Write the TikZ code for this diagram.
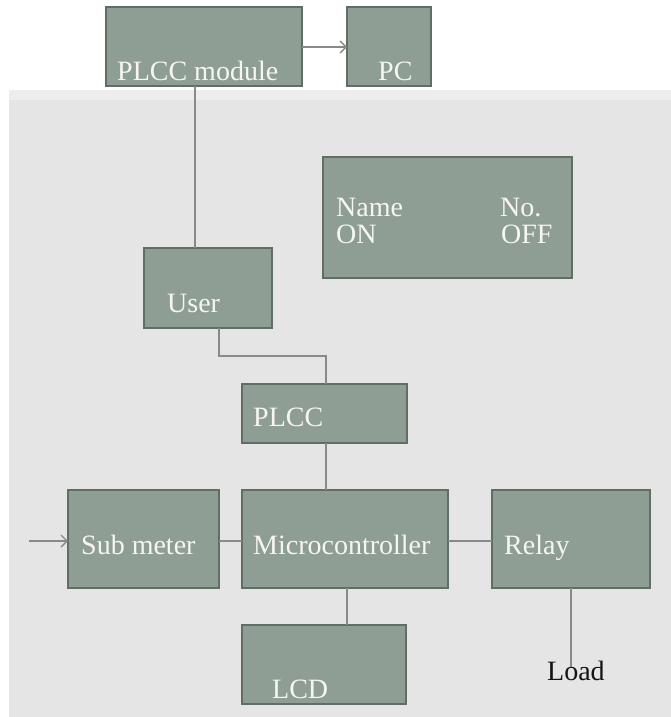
\documentclass[tikz,border=0pt]{standalone}
\usepackage{fontspec}
\setmainfont{Liberation Serif}
\usetikzlibrary{arrows.meta,calc}
\definecolor{bgband}{RGB}{229,229,229}
\definecolor{boxfill}{RGB}{143,158,148}
\definecolor{boxline}{RGB}{96,110,101}
\definecolor{boxtext}{RGB}{246,246,240}
\definecolor{wire}{RGB}{135,138,136}
\definecolor{loadtext}{RGB}{20,20,24}
\tikzset{
  blk/.style={draw=boxline, fill=boxfill, line width=2.2pt, rectangle, inner sep=0pt, outer sep=0pt, anchor=north west},
  lbl/.style={text=boxtext, anchor=base west, inner sep=0pt, font=\fontsize{28}{31}\selectfont},
  plainlbl/.style={text=loadtext, anchor=base west, inner sep=0pt, font=\fontsize{28}{31}\selectfont},
  wireline/.style={draw=wire, line width=1.3pt},
  arrowline/.style={wireline, -{Straight Barb[length=6pt,width=12pt,line width=1.3pt]}}
}
\begin{document}
\begin{tikzpicture}[x=1pt,y=-1pt]
\useasboundingbox (0,0) rectangle (671,717);
\fill[white] (0,0) rectangle (671,717);
\fill[bgband] (9,90) rectangle (671,717);
\fill[bgband!70!white] (9,90) rectangle (671,100);

% boxes
\node[blk, minimum width=196pt, minimum height=79pt] (mod) at (106,7) {};
\node[blk, minimum width=84pt, minimum height=79pt] (pc) at (347,7) {};
\node[blk, minimum width=249pt, minimum height=121pt] (disp) at (323,157) {};
\node[blk, minimum width=128pt, minimum height=80pt] (user) at (144,248) {};
\node[blk, minimum width=165pt, minimum height=59pt] (plcc) at (242,384) {};
\node[blk, minimum width=151pt, minimum height=98pt] (sub) at (68,490) {};
\node[blk, minimum width=206pt, minimum height=98pt] (micro) at (242,490) {};
\node[blk, minimum width=158pt, minimum height=98pt] (relay) at (492,490) {};
\node[blk, minimum width=164pt, minimum height=79pt] (lcd) at (242,625) {};

% texts
\node[lbl] (tmod) at (117,80) {PLCC module};
\node[lbl] (tpc) at (378,80) {PC};
\node[lbl] (tname) at (336,216) {Name};
\node[lbl] (tno) at (500,216) {No.};
\node[lbl] (ton) at (336,243) {ON};
\node[lbl] (toff) at (501,243) {OFF};
\node[lbl] (tuser) at (167,312) {User};
\node[lbl] (tplcc) at (253,426) {PLCC};
\node[lbl] (tsub) at (81,554) {Sub meter};
\node[lbl] (tmicro) at (253,554) {Microcontroller};
\node[lbl] (trelay) at (504,554) {Relay};
\node[lbl] (tlcd) at (272,698) {LCD};

% helper coordinates
\coordinate (xa) at (195,0);
\coordinate (xb) at (219,0);
\coordinate (xc) at (326,0);
\coordinate (xd) at (347,0);
\coordinate (xe) at (571,0);
\coordinate (ya) at (0,47);
\coordinate (yb) at (0,356);
\coordinate (yc) at (0,541);
\coordinate (inpt) at (29,541);
\coordinate (loadend) at (571,668);

% connectors
\draw[arrowline] (mod.east |- ya) -- (pc.west |- ya);
\draw[wireline] (mod.south -| xa) -- (user.north -| xa);
\draw[wireline] (user.south -| xb) -- (xb |- yb) -- (xc |- yb) -- (plcc.north -| xc);
\draw[wireline] (plcc.south -| xc) -- (micro.north -| xc);
\draw[arrowline] (inpt) -- (sub.west |- yc);
\draw[wireline] (sub.east |- yc) -- (micro.west |- yc);
\draw[wireline] (micro.east |- yc) -- (relay.west |- yc);
\draw[wireline] (micro.south -| xd) -- (lcd.north -| xd);
\draw[wireline] (relay.south -| xe) -- (loadend);

\node[plainlbl] (tload) at (547,680) {Load};
\end{tikzpicture}
\end{document}
